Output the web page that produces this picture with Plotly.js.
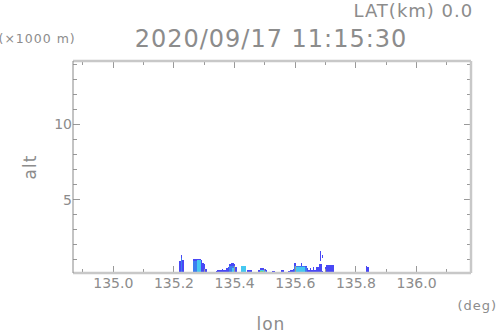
<!DOCTYPE html>
<html>
<head>
<meta charset="utf-8">
<script src="https://cdn.plot.ly/plotly-3.0.1.min.js"></script>
<style>
html,body{margin:0;padding:0;background:#fff;}
#chart{width:498px;height:336px;}
#chart .gtitle, #chart .annotation-text{letter-spacing:1px;}
</style>
</head>
<body>
<div id="chart"></div>
<script>
// Echo-top envelope (deep blue), km
var blueLon = [135.220,135.225,135.230,
  135.265,135.270,135.275,135.280,135.285,135.290,135.295,135.300,135.305,
  135.335,135.340,135.345,135.350,135.355,135.360,135.365,135.370,135.375,135.380,135.385,135.390,135.395,135.400,135.405,135.410,
  135.445,135.450,135.455,
  135.475,135.480,135.485,135.490,135.495,135.500,135.505,135.510,
  135.520,135.525,135.530,135.535,
  135.555,135.560,
  135.580,135.585,135.590,135.595,135.600,135.605,135.610,135.615,135.620,135.625,135.630,135.635,135.640,135.645,135.650,135.655,135.660,135.665,135.670,135.675,135.680,135.685,135.690,135.695,135.700,135.705,135.710,135.715,135.720,135.725,
  135.835,135.840];
var blueTop = [0.9,1.35,1.0,
  1.05,1.08,1.06,1.05,1.05,1.0,0.8,0.7,0.4,
  0.2,0.25,0.3,0.35,0.3,0.4,0.35,0.3,0.45,0.55,0.7,0.8,0.78,0.72,0.5,0.2,
  0.33,0.33,0.33,
  0.2,0.35,0.45,0.48,0.47,0.42,0.3,0.15,
  0.15,0.25,0.25,0.2,
  0.33,0.33,
  0.25,0.3,0.35,0.4,0.78,0.6,0.62,0.62,0.8,0.62,0.62,0.6,0.45,0.35,0.45,0.3,0.5,0.35,0.55,0.5,0.75,0.7,0.25,0.2,0.55,0.66,0.66,0.66,0.66,0.66,
  0.6,0.5];
// Medium blue layer
var midLon = [135.225,135.265,135.270,135.275,135.385,135.390,135.395,135.600,135.605,135.610,135.615,135.620,135.625,135.630,135.635];
var midTop = [1.1,0.9,0.9,0.9,0.6,0.6,0.6,0.58,0.58,0.58,0.58,0.58,0.58,0.58,0.55];
// Cyan layer
var cyanLon = [135.280,135.285,135.395,135.400,135.425,135.430,135.435,135.485,135.490,135.495,135.500,135.525,135.530,135.605,135.610,135.615,135.620,135.625,135.630];
var cyanTop = [1.0,1.0,0.45,0.45,0.6,0.6,0.6,0.3,0.32,0.3,0.25,0.17,0.17,0.55,0.55,0.55,0.55,0.55,0.55];
// Green core
var greenLon = [135.487,135.492,135.497,135.528];
var greenTop = [0.24,0.25,0.22,0.13];
// Detached echo aloft
var floatLon = [135.683,135.690];
var floatBase = [0.95,1.15];
var floatTop = [1.6,1.3];

var floatHeight = floatTop.map(function(t,i){return t-floatBase[i];});

var traces = [
  {type:'bar', x:blueLon, y:blueTop, width:0.0052, marker:{color:'rgb(72,72,245)', line:{width:0}}, hoverinfo:'skip'},
  {type:'bar', x:midLon, y:midTop, width:0.0052, marker:{color:'rgb(60,125,240)', line:{width:0}}, hoverinfo:'skip'},
  {type:'bar', x:cyanLon, y:cyanTop, width:0.0052, marker:{color:'rgb(70,200,240)', line:{width:0}}, hoverinfo:'skip'},
  {type:'bar', x:greenLon, y:greenTop, width:0.005, marker:{color:'rgb(110,220,110)', line:{width:0}}, hoverinfo:'skip'},
  {type:'bar', x:floatLon, y:floatHeight, base:floatBase, width:0.004, marker:{color:'rgb(72,72,245)', line:{width:0}}, hoverinfo:'skip'}
];

var gray = '#8c8c8c';
var layout = {
  width:498, height:336,
  margin:{l:73, r:27, t:61, b:63, pad:0},
  paper_bgcolor:'#fff', plot_bgcolor:'#fff',
  showlegend:false,
  barmode:'overlay', bargap:0,
  font:{family:'DejaVu Sans, sans-serif', color:gray},
  title:{text:'2020/09/17 11:15:30', font:{size:24, color:gray, family:'DejaVu Sans, sans-serif'},
    xref:'paper', x:0.4975, xanchor:'center', yref:'container', y:1-39/336, yanchor:'middle'},
  xaxis:{range:[134.8671,136.1794], tick0:135, dtick:0.2, tickformat:'.1f',
    ticks:'inside', ticklen:7, tickwidth:1, tickcolor:'#999', mirror:'ticks',
    showline:false, showgrid:false, zeroline:false,
    tickfont:{size:14, color:gray},
    minor:{dtick:0.1, tick0:135, ticks:'inside', ticklen:4, tickcolor:'#999', showgrid:false}},
  yaxis:{range:[0.13,14.2], tick0:0, dtick:5,
    ticks:'inside', ticklen:7, tickwidth:1, tickcolor:'#999', mirror:'ticks',
    showline:false, showgrid:false, zeroline:false,
    tickfont:{size:14, color:gray},
    minor:{dtick:1, tick0:0, ticks:'inside', ticklen:4, tickcolor:'#999', showgrid:false}},
  shapes:[
    {type:'line', xref:'paper', yref:'paper', x0:0, x1:1, y0:0, y1:0, line:{color:'#c8c8c8', width:2.5}, layer:'above'},
    {type:'line', xref:'paper', yref:'paper', x0:0, x1:1, y0:1, y1:1, line:{color:'#c8c8c8', width:2.5}, layer:'above'},
    {type:'line', xref:'paper', yref:'paper', x0:1, x1:1, y0:0, y1:1, line:{color:'#c8c8c8', width:2.5}, layer:'above'},
    {type:'line', xref:'paper', yref:'paper', x0:0, x1:0, y0:0, y1:1, line:{color:'#888', width:1}, layer:'above'}
  ],
  annotations:[
    {text:'LAT(km) 0.0', xref:'paper', yref:'paper', x:0.9975, y:(273-11)/212, xanchor:'right', yanchor:'middle', showarrow:false, font:{size:18, color:gray}},
    {text:'(×1000 m)', xref:'paper', yref:'paper', x:(1-73)/398, y:(273-38)/212, xanchor:'left', yanchor:'middle', showarrow:false, font:{size:12.5, color:gray}},
    {text:'alt', xref:'paper', yref:'paper', x:(30-73)/398, y:(273-167)/212, xanchor:'center', yanchor:'middle', textangle:-90, showarrow:false, font:{size:17, color:gray}},
    {text:'lon', xref:'paper', yref:'paper', x:(271-73)/398, y:(273-324)/212, xanchor:'center', yanchor:'middle', showarrow:false, font:{size:17, color:gray}},
    {text:'(deg)', xref:'paper', yref:'paper', x:(497-73)/398, y:(273-305)/212, xanchor:'right', yanchor:'middle', showarrow:false, font:{size:13, color:gray}}
  ]
};

Plotly.newPlot('chart', traces, layout, {displayModeBar:false, staticPlot:true});
</script>
</body>
</html>
